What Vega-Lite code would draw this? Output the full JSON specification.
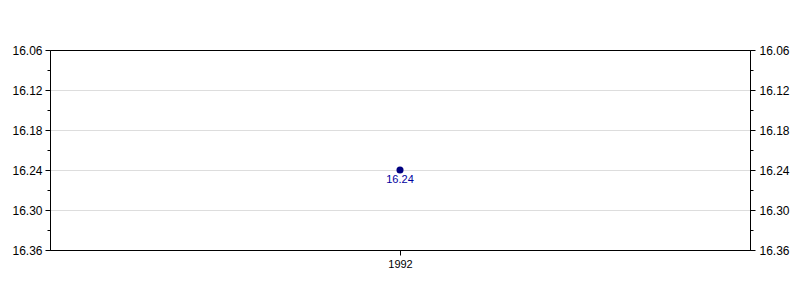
{
  "$schema": "https://vega.github.io/schema/vega-lite/v6.json",
  "width": 700,
  "height": 200,
  "autosize": {"type": "none"},
  "padding": {"left": 50, "top": 50, "right": 50, "bottom": 50},
  "config": {
    "view": {"stroke": "black", "strokeWidth": 1},
    "font": "Liberation Sans",
    "axis": {
      "domainColor": "black",
      "tickColor": "black",
      "labelColor": "black",
      "labelFont": "Liberation Sans",
      "labelFontSize": 11,
      "gridColor": "#dddddd",
      "title": null
    }
  },
  "data": {"values": [{"year": 1992, "value": 16.24}]},
  "layer": [
    {
      "mark": {"type": "point", "filled": true, "size": 50, "color": "#000080", "opacity": 1},
      "encoding": {
        "x": {
          "field": "year", "type": "quantitative",
          "scale": {"domain": [1991, 1993], "nice": false, "zero": false},
          "axis": {"values": [1992], "format": "d", "grid": false, "tickSize": 5, "labelPadding": 3}
        },
        "y": {
          "field": "value", "type": "quantitative",
          "scale": {"domain": [16.06, 16.36], "reverse": true, "zero": false, "nice": false},
          "axis": {
            "orient": "left",
            "values": [16.06, 16.09, 16.12, 16.15, 16.18, 16.21, 16.24, 16.27, 16.30, 16.33, 16.36],
            "labelExpr": "round(datum.value*100) % 6 == 4 ? format(datum.value, '.2f') : ''",
            "labelFontSize": 12,
            "tickSize": {"condition": {"test": "round(datum.value*100) % 6 == 4", "value": 5}, "value": 3},
            "labelPadding": 3,
            "grid": true,
            "gridOpacity": {"condition": {"test": "round(datum.value*100) % 6 == 4 && round(datum.value*100) != 1606 && round(datum.value*100) != 1636", "value": 1}, "value": 0}
          }
        }
      }
    },
    {
      "mark": {"type": "text", "color": "#0000a0", "dy": 10, "fontSize": 11},
      "encoding": {
        "x": {"field": "year", "type": "quantitative"},
        "y": {
          "field": "value", "type": "quantitative",
          "axis": {
            "orient": "right",
            "values": [16.06, 16.09, 16.12, 16.15, 16.18, 16.21, 16.24, 16.27, 16.30, 16.33, 16.36],
            "labelExpr": "round(datum.value*100) % 6 == 4 ? format(datum.value, '.2f') : ''",
            "labelFontSize": 12,
            "tickSize": {"condition": {"test": "round(datum.value*100) % 6 == 4", "value": 5}, "value": 3},
            "labelPadding": 4,
            "grid": false
          }
        },
        "text": {"field": "value", "type": "quantitative", "format": ".2f"}
      }
    }
  ],
  "resolve": {"axis": {"y": "independent"}}
}
